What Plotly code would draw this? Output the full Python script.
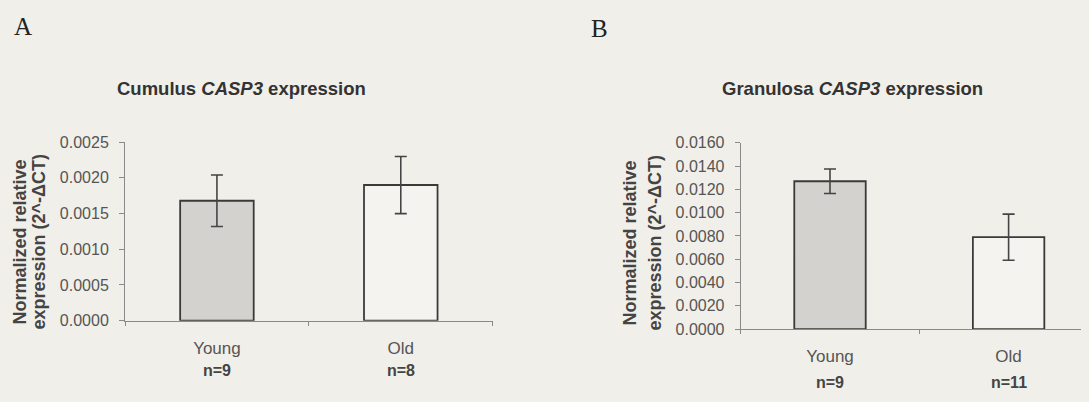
import plotly.graph_objects as go

# ---- data ----
categories = ["Young", "Old"]
n_labels_a = ["n=9", "n=8"]
n_labels_b = ["n=9", "n=11"]
cumulus_mean = [0.00168, 0.00190]
cumulus_err = [0.00036, 0.00040]
granulosa_mean = [0.0127, 0.0079]
granulosa_err = [0.00105, 0.00198]
ticks_a = [0.0, 0.0005, 0.0010, 0.0015, 0.0020, 0.0025]
ticks_b = [0.0, 0.002, 0.004, 0.006, 0.008, 0.010, 0.012, 0.014, 0.016]

BG = "#f1efe9"
bar_fill = ["#d3d2cf", "#f4f3ef"]
OUT = "#3a3a3a"
AX = "#8a8a8a"
TXT = "#555555"
# page body keeps an 8px margin, so the figure is sized to fit the 1089x402 window
OFF = 8
W, H = 1089 - 2 * OFF, 402 - 2 * OFF
FONT = "Liberation Sans, Arial, sans-serif"


def px_x(p):
    return (p - OFF) / W


def px_y(p):
    return (H + OFF - p) / H


fig = go.Figure()
fig.add_trace(go.Bar(
    x=categories, y=cumulus_mean, width=0.4,
    marker=dict(color=bar_fill, line=dict(color=OUT, width=1.8)),
    error_y=dict(type="data", array=cumulus_err, color="#444444", thickness=1.6, width=6),
    xaxis="x", yaxis="y", showlegend=False))
fig.add_trace(go.Bar(
    x=categories, y=granulosa_mean, width=0.4,
    marker=dict(color=bar_fill, line=dict(color=OUT, width=1.8)),
    error_y=dict(type="data", array=granulosa_err, color="#444444", thickness=1.6, width=6),
    xaxis="x2", yaxis="y2", showlegend=False))

common_x = dict(type="category", showline=True, linecolor=AX, linewidth=1,
                ticks="outside", tickson="boundaries", ticklen=4, tickcolor=AX,
                tickfont=dict(family=FONT, size=17, color=TXT),
                ticklabelstandoff=12, showgrid=False, zeroline=False, fixedrange=True)
common_y = dict(showline=True, linecolor=AX, linewidth=1, ticks="outside",
                ticklen=5, tickcolor=AX, tickfont=dict(family=FONT, size=16, color=TXT),
                tickformat=".4f", showgrid=False, zeroline=False, ticklabelstandoff=7)

fig.update_layout(
    width=W, height=H, autosize=False,
    margin=dict(l=0, r=0, t=0, b=0),
    paper_bgcolor=BG, plot_bgcolor=BG,
    xaxis=dict(domain=[px_x(125), px_x(492.7)], range=[-0.5, 1.5], anchor="y", **common_x),
    yaxis=dict(domain=[px_y(326.7), px_y(140)], range=[0, 0.0025], tickvals=ticks_a,
               anchor="x", **common_y),
    xaxis2=dict(domain=[px_x(740.7), 1.0], range=[-0.5, -0.5 + (1081 - 740.7) / 178.6],
                anchor="y2", **common_x),
    yaxis2=dict(domain=[px_y(335.5), px_y(140.7)], range=[0, 0.016], tickvals=ticks_b,
                anchor="x2", **common_y),
)

ann = []


def add_text(text, x, y, size, color, family=FONT, angle=0, xref="paper"):
    ann.append(dict(text=text, x=x if xref != "paper" else px_x(x), y=px_y(y),
                    xref=xref, yref="paper", xanchor="center", yanchor="middle",
                    textangle=angle, showarrow=False,
                    font=dict(family=family, size=size, color=color)))


# panel letters
add_text("A", 23, 19, 25, "#222", family="Liberation Serif, serif")
add_text("B", 599.5, 21, 25, "#222", family="Liberation Serif, serif")
# titles
add_text("<b>Cumulus <i>CASP3</i> expression</b>", 241.5, 84, 18.5, "#333")
add_text("<b>Granulosa <i>CASP3</i> expression</b>", 852, 84, 18.5, "#333")
# y titles (two lines each)
for xl1, xl2, yc in [(20, 39, 245), (630, 655, 246)]:
    add_text("<b>Normalized relative</b>", xl1, yc, 18, "#444", angle=-90)
    add_text("<b>expression (2^-ΔCT)</b>", xl2, yc, 18, "#444", angle=-90)
# n labels
for cat, lab in zip(categories, n_labels_a):
    add_text("<b>" + lab + "</b>", cat, 379, 16, "#444", xref="x")
for cat, lab in zip(categories, n_labels_b):
    add_text("<b>" + lab + "</b>", cat, 391, 16, "#444", xref="x2")
fig.update_layout(annotations=ann)

fig.write_html("out.html", config={"displayModeBar": False},
               post_script="document.body.style.background='%s';" % BG)
